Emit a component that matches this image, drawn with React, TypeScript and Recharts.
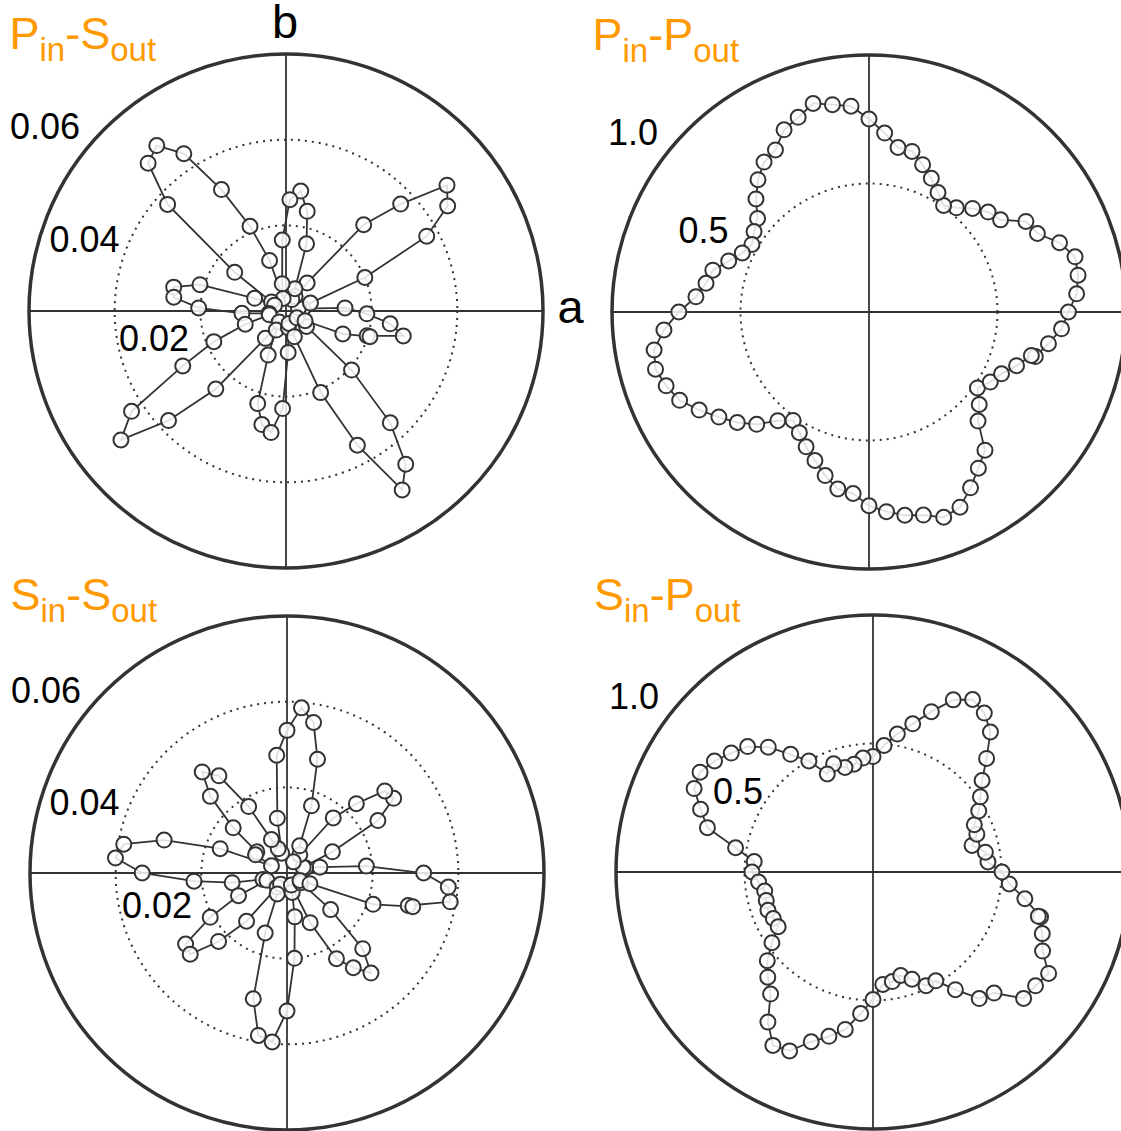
import React from 'react';
import { RadarChart, Radar, PolarGrid, PolarAngleAxis, PolarRadiusAxis } from 'recharts';

// polarisation-resolved intensity, sampled every 5 degrees (first point repeated at the end)
const ANGLES = [345, 350, 355, 0, 5, 10, 15, 20, 25, 30, 35, 40, 45, 50, 55, 60, 65, 70, 75, 80, 85, 90, 95, 100, 105, 110, 115, 120, 125, 130, 135, 140, 145, 150, 155, 160, 165, 170, 175, 180, 185, 190, 195, 200, 205, 210, 215, 220, 225, 230, 235, 240, 245, 250, 255, 260, 265, 270, 275, 280, 285, 290, 295, 300, 305, 310, 315, 320, 325, 330, 335, 340, 345];
const ANGLES_PS = [343, 348, 353, 358, 3, 8, 13, 18, 23, 28, 33, 38, 43, 48, 53, 58, 63, 68, 73, 78, 83, 88, 93, 98, 103, 108, 113, 118, 123, 128, 133, 138, 143, 148, 153, 158, 163, 168, 173, 178, 183, 188, 193, 198, 203, 208, 213, 218, 223, 228, 233, 238, 243, 248, 253, 258, 263, 268, 273, 278, 283, 288, 293, 298, 303, 308, 313, 318, 323, 328, 333, 338, 343];

const R_PIN_SOUT = [0.0198, 0.028, 0.0245, 0.0189, 0.0138, 0.004, 0.003, 0.006, 0.02, 0.0372,
  0.045, 0.0477, 0.0366, 0.0271, 0.0082, 0.004, 0.003, 0.0056, 0.0164, 0.0238,
  0.0282, 0.026, 0.0166, 0.0064, 0.003, 0.0124, 0.0215, 0.0321, 0.0438, 0.049,
  0.0472, 0.0372, 0.015, 0.004, 0.003, 0.0079, 0.021, 0.0268, 0.0264, 0.0204,
  0.0103, 0.004, 0.004, 0.01, 0.0183, 0.0273, 0.043, 0.0489, 0.0375, 0.0245,
  0.008, 0.003, 0.005, 0.0111, 0.0226, 0.0271, 0.0286, 0.0228, 0.0097, 0.004,
  0.003, 0.0063, 0.0207, 0.0355, 0.0498, 0.0454, 0.0357, 0.0206, 0.006, 0.003,
  0.005, 0.0143, 0.0205];

const R_PIN_POUT = [0.67, 0.709, 0.752, 0.776, 0.811, 0.826, 0.83, 0.789, 0.723, 0.705,
  0.625, 0.605, 0.57, 0.529, 0.506, 0.537, 0.574, 0.61, 0.647, 0.65,
  0.699, 0.751, 0.804, 0.819, 0.84, 0.806, 0.782, 0.728, 0.712, 0.672,
  0.622, 0.566, 0.546, 0.526, 0.544, 0.581, 0.629, 0.644, 0.676, 0.74,
  0.801, 0.849, 0.86, 0.84, 0.813, 0.763, 0.713, 0.669, 0.618, 0.552,
  0.515, 0.542, 0.579, 0.615, 0.659, 0.699, 0.709, 0.754, 0.78, 0.803,
  0.818, 0.85, 0.838, 0.79, 0.742, 0.702, 0.6, 0.56, 0.515, 0.545,
  0.569, 0.611, 0.654];

const R_SIN_SOUT = [0.0293, 0.0387, 0.0378, 0.0319, 0.0186, 0.0078, 0.0045, 0.004, 0.0117, 0.0245,
  0.0304, 0.0298, 0.0229, 0.0168, 0.0052, 0.003, 0.007, 0.0167, 0.0275, 0.0357,
  0.0387, 0.0333, 0.0276, 0.013, 0.0048, 0.006, 0.0086, 0.0179, 0.0277, 0.0308,
  0.0253, 0.0164, 0.0086, 0.0085, 0.004, 0.0166, 0.0297, 0.0387, 0.0402, 0.0338,
  0.0218, 0.013, 0.0058, 0.005, 0.0125, 0.0207, 0.0289, 0.0295, 0.0226, 0.0147,
  0.004, 0.003, 0.0054, 0.0149, 0.0304, 0.0385, 0.0396, 0.0322, 0.02, 0.0104,
  0.0047, 0.003, 0.0128, 0.0231, 0.027, 0.0305, 0.025, 0.0133, 0.004, 0.0035,
  0.0059, 0.0214, 0.0304];

const R_SIN_POUT = [0.675, 0.6, 0.532, 0.502, 0.449, 0.444, 0.399, 0.43, 0.435, 0.475,
  0.51, 0.554, 0.625, 0.711, 0.755, 0.775, 0.739, 0.664, 0.597, 0.545,
  0.494, 0.449, 0.445, 0.426, 0.421, 0.448, 0.421, 0.499, 0.559, 0.634,
  0.69, 0.72, 0.753, 0.777, 0.768, 0.714, 0.667, 0.543, 0.464, 0.471,
  0.447, 0.428, 0.43, 0.435, 0.428, 0.426, 0.48, 0.537, 0.579, 0.62,
  0.713, 0.779, 0.768, 0.703, 0.662, 0.622, 0.553, 0.496, 0.439, 0.433,
  0.417, 0.444, 0.488, 0.489, 0.559, 0.643, 0.666, 0.765, 0.772, 0.789,
  0.728, 0.701, 0.666];

const SMALL_TICKS = [0.02, 0.04];
const UNIT_TICKS = [0.5];
const SMALL_LABELS = ['0.06', '0.04', '0.02'];
const UNIT_LABELS = ['1.0', '0.5'];
const AXIS_ANGLES = [0, 90, 180, 270];

const INK = '#333333';
const ORANGE = '#ff9900';
const FONT = '"Liberation Sans", Arial, Helvetica, sans-serif';

const toRows = (angles: number[], values: number[]) =>
  angles.map((angle, i) => ({ angle, r: values[i] }));

type PanelProps = {
  left: number;
  top: number;
  width: number;
  height: number;
  cx: number;
  cy: number;
  values: number[];
  angles: number[];
  max: number;
  ticks: number[];
};

function PolarPanel({ left, top, width, height, cx, cy, values, angles, max, ticks }: PanelProps) {
  const data = toRows(angles, values);
  return (
    <div style={{ position: 'absolute', left, top, width, height }}>
      <RadarChart
        width={width}
        height={height}
        cx={cx}
        cy={cy}
        outerRadius={257}
        startAngle={0}
        endAngle={360}
        data={data}
      >
        <PolarAngleAxis
          type="number"
          dataKey="angle"
          domain={[0, 360]}
          ticks={AXIS_ANGLES}
          tick={false}
          tickLine={false}
          axisLineType="circle"
          axisLine={{ stroke: INK, strokeWidth: 3.5 }}
        />
        <PolarRadiusAxis
          type="number"
          domain={[0, max]}
          ticks={ticks}
          tick={false}
          axisLine={false}
        />
        <PolarGrid
          gridType="circle"
          radialLines={false}
          stroke={INK}
          strokeWidth={2}
          strokeDasharray="2 5"
        />
        <PolarGrid
          gridType="circle"
          polarAngles={AXIS_ANGLES}
          polarRadius={[]}
          stroke={INK}
          strokeWidth={1.8}
        />
        <Radar
          dataKey="r"
          stroke={INK}
          strokeWidth={1.8}
          fill="none"
          isAnimationActive={false}
          dot={{ r: 7.5, fill: '#ffffff', fillOpacity: 0.85, stroke: INK, strokeWidth: 2 }}
        />
      </RadarChart>
    </div>
  );
}

function Title({ x, y, first, second }: { x: number; y: number; first: string; second: string }) {
  return (
    <text x={x} y={y} fill={ORANGE} fontFamily={FONT} fontSize={45}>
      {first[0]}
      <tspan fontSize={33} dy={12}>{first.slice(1)}</tspan>
      <tspan dy={-12}>-{second[0]}</tspan>
      <tspan fontSize={33} dy={12}>{second.slice(1)}</tspan>
    </text>
  );
}

export default function App() {
  const label = { fontFamily: FONT, fontSize: 36, fill: '#000' };
  return (
    <div style={{ position: 'absolute', left: 0, top: 0, width: 1121, height: 1131, overflow: 'hidden', background: '#fff' }}>
      <PolarPanel left={0} top={0} width={580} height={580} cx={286} cy={311}
        values={R_PIN_SOUT} angles={ANGLES_PS} max={0.06} ticks={SMALL_TICKS} />
      <PolarPanel left={580} top={0} width={541} height={580} cx={289} cy={312}
        values={R_PIN_POUT} angles={ANGLES} max={1} ticks={UNIT_TICKS} />
      <PolarPanel left={0} top={580} width={580} height={551} cx={287} cy={293}
        values={R_SIN_SOUT} angles={ANGLES} max={0.06} ticks={SMALL_TICKS} />
      <PolarPanel left={580} top={580} width={541} height={551} cx={293} cy={292}
        values={R_SIN_POUT} angles={ANGLES} max={1} ticks={UNIT_TICKS} />

      <svg width={1121} height={1131} style={{ position: 'absolute', left: 0, top: 0, pointerEvents: 'none' }}>
        <Title x={9.5} y={49} first="Pin" second="Sout" />
        <Title x={592.5} y={50} first="Pin" second="Pout" />
        <Title x={10.5} y={609.5} first="Sin" second="Sout" />
        <Title x={594} y={610} first="Sin" second="Pout" />

        <text x={285} y={38} textAnchor="middle" fontFamily={FONT} fontSize={47} fill="#000">b</text>
        <text x={557.5} y={323} fontFamily={FONT} fontSize={47} fill="#000">a</text>

        <text x={10} y={139} {...label}>{SMALL_LABELS[0]}</text>
        <text x={49.5} y={252} {...label}>{SMALL_LABELS[1]}</text>
        <text x={119} y={351} {...label}>{SMALL_LABELS[2]}</text>

        <text x={608} y={145} {...label}>{UNIT_LABELS[0]}</text>
        <text x={678.5} y={243} {...label}>{UNIT_LABELS[1]}</text>

        <text x={11} y={703} {...label}>{SMALL_LABELS[0]}</text>
        <text x={49.5} y={815} {...label}>{SMALL_LABELS[1]}</text>
        <text x={122} y={918} {...label}>{SMALL_LABELS[2]}</text>

        <text x={609} y={709} {...label}>{UNIT_LABELS[0]}</text>
        <text x={713} y={804} {...label}>{UNIT_LABELS[1]}</text>
      </svg>
    </div>
  );
}
